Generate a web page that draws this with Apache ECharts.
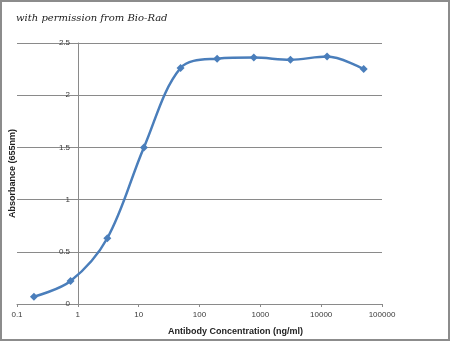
<!DOCTYPE html>
<html>
<head>
<meta charset="utf-8">
<style>
  html, body { margin: 0; padding: 0; background: #fff; }
  #chart { width: 450px; height: 341px; }
</style>
<script src="https://cdn.jsdelivr.net/npm/echarts@6/dist/echarts.min.js"></script>
</head>
<body>
<div id="chart"></div>
<script>
// Antibody dilution series (4-fold) and measured absorbance at 655 nm
const concentrations = [0.19, 0.76, 3.05, 12.2, 48.8, 195, 781, 3125, 12500, 50000];
const absorbance = [0.07, 0.22, 0.63, 1.50, 2.26, 2.35, 2.36, 2.34, 2.37, 2.25];
const xTickValues = [0.1, 1, 10, 100, 1000, 10000, 100000];
const yTickValues = [0, 0.5, 1, 1.5, 2, 2.5];

const points = concentrations.map((c, i) => [c, absorbance[i]]);

const chart = echarts.init(document.getElementById('chart'), null, { renderer: 'canvas' });

const gridColor = '#8a8a8a';
const labelColor = '#3a3a3a';

chart.setOption({
  animation: false,
  backgroundColor: '#ffffff',
  title: {
    text: 'with permission from Bio-Rad',
    left: 11,
    top: 8,
    textStyle: {
      fontFamily: 'DejaVu Serif',
      fontStyle: 'italic',
      fontWeight: 'normal',
      fontSize: 10,
      color: '#1a1a1a'
    }
  },
  graphic: [{
    type: 'rect',
    shape: { x: 1, y: 1, width: 448, height: 339 },
    style: { fill: 'none', stroke: '#8c8c8c', lineWidth: 2 },
    silent: true
  }],
  grid: { left: 17, right: 68, top: 43, bottom: 36 },
  xAxis: {
    type: 'log',
    logBase: 10,
    min: xTickValues[0],
    max: xTickValues[xTickValues.length - 1],
    name: 'Antibody Concentration (ng/ml)',
    nameLocation: 'middle',
    nameGap: 23,
    nameTextStyle: {
      fontFamily: 'Liberation Sans', fontWeight: 'bold', fontSize: 9, color: '#222',
      padding: [0, 0, 0, 72]
    },
    axisLine: { show: true, lineStyle: { color: gridColor, width: 1 } },
    axisTick: { show: true, length: 3, lineStyle: { color: gridColor } },
    axisLabel: {
      fontFamily: 'Liberation Sans', fontSize: 8, color: labelColor, margin: 7,
      formatter: v => String(Math.round(v * 10) / 10)
    },
    splitLine: { show: false },
    minorTick: { show: false }
  },
  yAxis: {
    type: 'value',
    min: yTickValues[0],
    max: yTickValues[yTickValues.length - 1],
    interval: 0.5,
    offset: -61,
    name: 'Absorbance (655nm)',
    nameLocation: 'middle',
    nameRotate: 90,
    nameGap: 61,
    nameTextStyle: { fontFamily: 'Liberation Sans', fontWeight: 'bold', fontSize: 9, color: '#222' },
    axisLine: { show: true, lineStyle: { color: gridColor, width: 1 } },
    axisTick: { show: true, length: 3, lineStyle: { color: gridColor } },
    axisLabel: { fontFamily: 'Liberation Sans', fontSize: 8, color: labelColor, margin: 8 },
    splitLine: { show: true, lineStyle: { color: gridColor, width: 1 } }
  },
  series: [{
    type: 'line',
    data: points,
    smooth: 0.35,
    symbol: 'diamond',
    symbolSize: 8,
    lineStyle: { color: '#4a7ebb', width: 2.5 },
    itemStyle: { color: '#4a7ebb' }
  }]
});
</script>
</body>
</html>
